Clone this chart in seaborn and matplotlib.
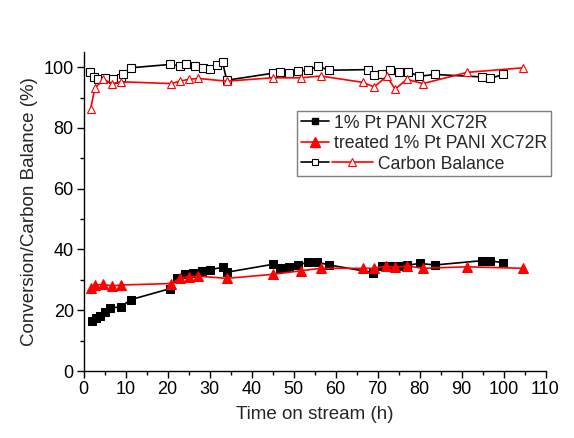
import numpy as np
import pandas as pd
import matplotlib
matplotlib.use("Agg")
import matplotlib.pyplot as plt
import seaborn as sns
from matplotlib.lines import Line2D
from matplotlib.legend_handler import HandlerBase
from matplotlib.ticker import MultipleLocator

# ---------------- data ----------------
t_pt = [2.0, 3.0, 3.9, 5.0, 6.3, 8.9, 11.3, 20.6, 22.2, 24.2, 26.1, 28.1, 30.1, 33.1, 34.1,
        45.0, 46.8, 49.0, 51.0, 53.5, 55.7, 58.5, 69.0, 71.0, 73.0, 75.0, 77.0, 80.0, 83.7,
        94.8, 96.8, 99.9]
conv_pt = [16.4, 17.3, 18.2, 19.5, 20.6, 21.2, 23.5, 27.1, 30.5, 31.8, 32.3, 33.0, 33.4, 34.1, 32.5,
           35.1, 34.0, 34.3, 34.9, 35.8, 35.8, 34.9, 32.4, 34.5, 34.6, 34.6, 34.8, 35.4, 34.9,
           36.3, 36.3, 35.6]

t_tr = [1.7, 2.7, 4.7, 6.9, 8.9, 20.8, 23.0, 25.0, 27.3, 34.1, 45.0, 51.8, 56.5, 66.5, 69.2,
        72.0, 74.2, 77.0, 80.8, 91.4, 104.7]
conv_tr = [27.2, 28.3, 28.5, 28.0, 28.3, 28.8, 30.5, 31.0, 31.2, 30.5, 31.8, 33.0, 33.8, 33.8, 33.8,
           34.5, 34.1, 34.6, 33.8, 34.3, 33.8]

t_cb_pt = [1.5, 2.5, 3.5, 5.0, 7.0, 8.9, 9.5, 11.2, 20.6, 23.0, 24.4, 26.5, 28.4, 30.1, 31.7, 33.1,
           34.1, 45.0, 46.8, 49.0, 51.1, 53.4, 55.8, 58.5, 67.8, 69.2, 71.0, 73.0, 75.0, 77.3,
           79.9, 83.7, 94.8, 96.8, 99.9]
cb_pt = [98.5, 96.8, 96.0, 96.5, 96.0, 96.3, 97.6, 99.8, 100.9, 100.4, 100.9, 100.4, 99.6, 99.5, 100.6, 101.7,
         95.7, 98.0, 98.5, 98.1, 98.7, 99.0, 100.3, 99.0, 99.2, 97.5, 97.9, 99.0, 98.5, 98.5,
         97.0, 97.6, 96.8, 96.3, 97.6]

t_cb_tr = [1.7, 2.7, 4.7, 6.9, 8.9, 20.8, 23.0, 25.0, 27.3, 34.1, 45.0, 51.8, 56.5, 66.5, 69.2,
           72.2, 74.2, 77.0, 80.8, 91.4, 104.7]
cb_tr = [86.4, 93.0, 96.0, 94.6, 95.2, 94.6, 95.4, 96.0, 96.3, 95.4, 96.5, 96.5, 97.1, 95.0, 93.5,
         97.0, 92.8, 96.0, 94.6, 98.3, 99.8]

labels = ["1% Pt PANI XC72R", "treated 1% Pt PANI XC72R", "Carbon Balance"]
x_label = "Time on stream (h)"
y_label = "Conversion/Carbon Balance (%)"

RED = "#ff0000"

# ---------------- style ----------------
sns.set_style("ticks")
plt.rcParams["font.family"] = ["Liberation Sans", "DejaVu Sans"]

fig = plt.figure(figsize=(5.74, 4.38), dpi=100)
ax = fig.add_axes([83.5 / 574, 67 / 438, 462 / 574, 319 / 438])

lw = 1.2
sns.lineplot(x=t_pt, y=conv_pt, ax=ax, color="black", marker="s", markersize=5.2,
             markeredgecolor="black", markerfacecolor="black", lw=lw, estimator=None, sort=False)
sns.lineplot(x=t_tr, y=conv_tr, ax=ax, color=RED, marker="^", markersize=6.5,
             markeredgecolor=RED, markerfacecolor=RED, lw=lw, estimator=None, sort=False)
sns.lineplot(x=t_cb_pt, y=cb_pt, ax=ax, color="black", marker="s", markersize=5.3,
             markeredgecolor="black", markerfacecolor="white", markeredgewidth=0.8,
             lw=lw, estimator=None, sort=False)
sns.lineplot(x=t_cb_tr, y=cb_tr, ax=ax, color=RED, marker="^", markersize=6.3,
             markeredgecolor=RED, markerfacecolor="white", markeredgewidth=0.8,
             lw=lw, estimator=None, sort=False)

ax.set_xlim(0, 110)
ax.set_ylim(0, 105)
ax.xaxis.set_major_locator(MultipleLocator(10))
ax.xaxis.set_minor_locator(MultipleLocator(5))
ax.yaxis.set_major_locator(MultipleLocator(20))
ax.yaxis.set_minor_locator(MultipleLocator(10))
ax.set_yticks([0, 20, 40, 60, 80, 100])
sns.despine(ax=ax)
for s in ["left", "bottom"]:
    ax.spines[s].set_linewidth(1.0)
    ax.spines[s].set_color("black")
ax.tick_params(which="major", direction="out", length=5, width=1.0, colors="black",
               labelsize=13, pad=2)
ax.tick_params(which="minor", direction="out", length=3, width=1.0, colors="black")
ax.set_xlabel(x_label, fontsize=13.5, labelpad=6)
ax.set_ylabel(y_label, fontsize=13.5, labelpad=4)


# ---------------- legend ----------------
class DualHandler(HandlerBase):
    def create_artists(self, legend, orig_handle, xdescent, ydescent, width, height,
                       fontsize, trans):
        y = height / 2 - ydescent
        x0 = -xdescent
        gap = 2.0
        w2 = 30.0
        a1 = Line2D([x0, x0 + width], [y, y], color="black", lw=lw, transform=trans)
        m1 = Line2D([x0 + width / 2], [y], marker="s", markersize=5, color="black",
                    markerfacecolor="white", markeredgewidth=0.8, lw=0, transform=trans)
        xs = x0 + width + gap
        a2 = Line2D([xs, xs + w2], [y, y], color=RED, lw=lw, transform=trans)
        m2 = Line2D([xs + w2 / 2], [y], marker="^", markersize=6, color=RED,
                    markerfacecolor="white", markeredgewidth=0.8, lw=0, transform=trans)
        return [a1, a2, m1, m2]


h1 = Line2D([], [], color="black", marker="s", markersize=5, lw=lw)
h2 = Line2D([], [], color=RED, marker="^", markersize=6.5, lw=lw)
h3 = Line2D([], [], color="black")
leg = ax.legend([h1, h2, h3], [labels[0], labels[1], "         " + labels[2]],
                handler_map={h3: DualHandler()},
                loc="upper left", bbox_to_anchor=(297 / 574, 1 - 111 / 438),
                bbox_transform=fig.transFigure, borderaxespad=0,
                fontsize=12.7, handlelength=1.6, handletextpad=0.3, borderpad=0.2,
                labelspacing=0.2, fancybox=False, framealpha=1, edgecolor="#7f7f7f")
leg.get_frame().set_linewidth(1.0)

fig.savefig("out.png", dpi=100, facecolor="white")
